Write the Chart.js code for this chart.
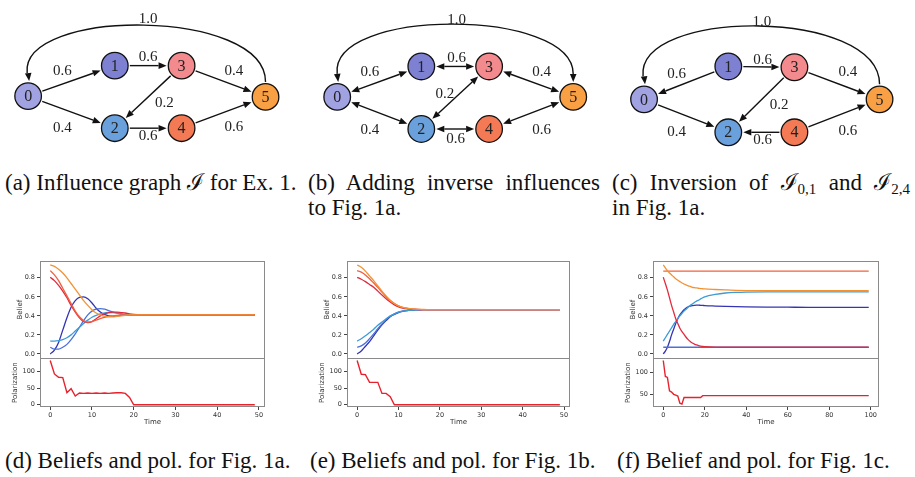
<!DOCTYPE html>
<html>
<head>
<meta charset="utf-8">
<script src="https://cdn.jsdelivr.net/npm/chart.js@4.4.1/dist/chart.umd.min.js"></script>
<style>
  body { margin: 0; width: 915px; height: 477px; background: #fff; position: relative; overflow: hidden; }
  canvas { position: absolute; }
  .cap { position: absolute; font-family: 'Liberation Serif', serif; font-size: 23px; line-height: 26px; color: #111; white-space: nowrap; }
  .just { text-align: justify; text-align-last: justify; }
  .cap sub { font-size: 15px; line-height: 0; vertical-align: -4px; }
</style>
</head>
<body>
<canvas id="ga" width="300" height="165" style="left:0;top:0"></canvas>
<canvas id="gb" width="305" height="165" style="left:300px;top:0"></canvas>
<canvas id="gc" width="310" height="165" style="left:605px;top:0"></canvas>

<canvas id="pd" width="300" height="180" style="left:0;top:250px"></canvas>
<canvas id="pe" width="300" height="180" style="left:307px;top:250px"></canvas>
<canvas id="pf" width="300" height="180" style="left:613px;top:250px"></canvas>

<div class="cap" style="left:5px;top:170px">(a) Influence graph ℐ for Ex. 1.</div>
<div class="cap just" style="left:308px;top:170px;width:292px">(b) Adding inverse influences</div>
<div class="cap" style="left:308px;top:195px">to Fig. 1a.</div>
<div class="cap just" style="left:612px;top:170px;width:298px">(c) Inversion of ℐ<sub>0,1</sub> and ℐ<sub>2,4</sub></div>
<div class="cap" style="left:612px;top:195px">in Fig. 1a.</div>
<div class="cap" style="left:5px;top:448px">(d) Beliefs and pol. for Fig. 1a.</div>
<div class="cap" style="left:310px;top:448px">(e) Beliefs and pol. for Fig. 1b.</div>
<div class="cap" style="left:617px;top:448px">(f) Belief and pol. for Fig. 1c.</div>

<script>
// ---- influence graphs ----
const nodeIds = ['0', '1', '2', '3', '4', '5'];
const nodeColors = ['#a1a2e2', '#7e81d2', '#6aa0dc', '#f28a8e', '#f37a55', '#f8a043'];

// node centres inside each panel
const nodesAX = [15, 111, 111, 185, 185, 278];
const nodesAY = [99, 62, 138, 62, 138, 100];
const nodesBX = [25, 118, 118, 193, 193, 286];
const nodesBY = [100, 63, 139, 63, 139, 100];
const nodesCX = [27, 120, 120, 193, 193, 287];
const nodesCY = [103, 63, 143, 64, 143, 103];

// [from, to, weight]
const edgesA = [[0, 1, 0.6], [1, 3, 0.6], [3, 5, 0.4], [3, 2, 0.2], [0, 2, 0.4], [2, 4, 0.6], [4, 5, 0.6], [5, 0, 1.0]];
const edgesB = [[0, 1, 0.6], [1, 3, 0.6], [3, 5, 0.4], [3, 2, 0.2], [0, 2, 0.4], [2, 4, 0.6], [4, 5, 0.6], [0, 5, 1.0]];
const edgesC = [[1, 0, 0.6], [1, 3, 0.6], [3, 5, 0.4], [3, 2, 0.2], [0, 2, 0.4], [4, 2, 0.6], [4, 5, 0.6], [5, 0, 1.0]];

// weight label spots, same order as the edges
const labelsA = [[53, 68], [148, 52], [243, 68], [166, 108], [53, 138], [148, 148], [243, 137], [148, 6]];
const labelsB = [[61, 70], [157, 53], [251, 70], [144, 97], [61, 140], [156, 151], [251, 140], [157, 7]];
const labelsC = [[63, 72], [158, 55], [252, 70], [176, 110], [63, 143], [158, 153], [252, 142], [157, 9]];

// top of the 0-5 arc
const arcTopA = 14;
const arcTopB = 14;
const arcTopC = 15;

// ---- belief / polarization runs ----
const timeD = [0, 1, 2, 3, 4, 5, 6, 7, 8, 9, 10, 11, 12, 13, 14, 15, 16, 17, 18, 19, 20, 25, 30, 35, 40, 45, 49];
const beliefD = [
  [0.00, 0.04, 0.12, 0.25, 0.38, 0.49, 0.56, 0.595, 0.60, 0.58, 0.535, 0.48, 0.44, 0.415, 0.40, 0.395, 0.40, 0.405, 0.41, 0.41, 0.41, 0.41, 0.41, 0.41, 0.41, 0.41, 0.41],
  [0.07, 0.05, 0.05, 0.07, 0.10, 0.15, 0.21, 0.28, 0.35, 0.41, 0.45, 0.47, 0.475, 0.47, 0.455, 0.44, 0.43, 0.42, 0.415, 0.41, 0.41, 0.41, 0.41, 0.41, 0.41, 0.41, 0.41],
  [0.135, 0.135, 0.14, 0.15, 0.17, 0.20, 0.24, 0.28, 0.32, 0.355, 0.385, 0.405, 0.42, 0.43, 0.435, 0.435, 0.43, 0.42, 0.415, 0.41, 0.41, 0.41, 0.41, 0.41, 0.41, 0.41, 0.41],
  [0.805, 0.77, 0.72, 0.66, 0.59, 0.51, 0.44, 0.38, 0.34, 0.33, 0.34, 0.37, 0.40, 0.42, 0.435, 0.44, 0.44, 0.435, 0.43, 0.42, 0.415, 0.41, 0.41, 0.41, 0.41, 0.41, 0.41],
  [0.875, 0.83, 0.77, 0.69, 0.61, 0.53, 0.45, 0.39, 0.35, 0.335, 0.34, 0.355, 0.37, 0.385, 0.395, 0.40, 0.405, 0.41, 0.41, 0.41, 0.41, 0.41, 0.41, 0.41, 0.41, 0.41, 0.41],
  [0.935, 0.92, 0.89, 0.85, 0.80, 0.74, 0.68, 0.62, 0.56, 0.51, 0.465, 0.43, 0.41, 0.395, 0.39, 0.39, 0.395, 0.40, 0.405, 0.41, 0.41, 0.41, 0.41, 0.41, 0.41, 0.41, 0.41]
];
const polD = [132, 92, 82, 81, 36, 48, 26, 35, 34, 35, 34, 35, 34, 35, 34, 35, 36, 36, 34, 22, 0, 0, 0, 0, 0, 0, 0];

const timeE = [0, 1, 2, 3, 4, 5, 6, 7, 8, 9, 10, 11, 12, 13, 14, 15, 16, 17, 18, 19, 20, 25, 30, 35, 40, 45, 49];
const beliefE = [
  [0.00, 0.03, 0.08, 0.13, 0.19, 0.25, 0.305, 0.35, 0.39, 0.415, 0.435, 0.447, 0.455, 0.46, 0.462, 0.464, 0.465, 0.465, 0.465, 0.465, 0.465, 0.465, 0.465, 0.465, 0.465, 0.465, 0.465],
  [0.07, 0.085, 0.115, 0.16, 0.21, 0.265, 0.315, 0.36, 0.395, 0.42, 0.438, 0.45, 0.456, 0.46, 0.463, 0.464, 0.465, 0.465, 0.465, 0.465, 0.465, 0.465, 0.465, 0.465, 0.465, 0.465, 0.465],
  [0.135, 0.16, 0.19, 0.225, 0.26, 0.30, 0.335, 0.37, 0.40, 0.42, 0.44, 0.45, 0.456, 0.46, 0.462, 0.464, 0.465, 0.465, 0.465, 0.465, 0.465, 0.465, 0.465, 0.465, 0.465, 0.465, 0.465],
  [0.805, 0.785, 0.76, 0.73, 0.70, 0.66, 0.62, 0.58, 0.545, 0.515, 0.495, 0.482, 0.474, 0.47, 0.468, 0.466, 0.465, 0.465, 0.465, 0.465, 0.465, 0.465, 0.465, 0.465, 0.465, 0.465, 0.465],
  [0.875, 0.86, 0.83, 0.79, 0.745, 0.70, 0.65, 0.60, 0.56, 0.53, 0.505, 0.49, 0.48, 0.473, 0.47, 0.467, 0.466, 0.465, 0.465, 0.465, 0.465, 0.465, 0.465, 0.465, 0.465, 0.465, 0.465],
  [0.935, 0.91, 0.87, 0.82, 0.77, 0.715, 0.66, 0.61, 0.565, 0.53, 0.505, 0.49, 0.48, 0.475, 0.47, 0.468, 0.467, 0.466, 0.465, 0.465, 0.465, 0.465, 0.465, 0.465, 0.465, 0.465, 0.465]
];
const polE = [132, 91, 90, 67, 67, 67, 34, 34, 24, 0, 0, 0, 0, 0, 0, 0, 0, 0, 0, 0, 0, 0, 0, 0, 0, 0, 0];

const timeF = [0, 1, 2, 3, 4, 5, 6, 7, 8, 9, 10, 11, 12, 13, 14, 15, 16, 17, 18, 19, 20, 25, 30, 35, 40, 50, 60, 70, 80, 90, 99];
const beliefF = [
  [0.00, 0.03, 0.07, 0.13, 0.20, 0.26, 0.32, 0.37, 0.41, 0.44, 0.465, 0.483, 0.496, 0.503, 0.508, 0.511, 0.512, 0.512, 0.511, 0.51, 0.508, 0.503, 0.499, 0.496, 0.494, 0.492, 0.491, 0.49, 0.49, 0.49, 0.49],
  [0.07, 0.07, 0.07, 0.07, 0.07, 0.07, 0.07, 0.07, 0.07, 0.07, 0.07, 0.07, 0.07, 0.07, 0.07, 0.07, 0.07, 0.07, 0.07, 0.07, 0.07, 0.07, 0.07, 0.07, 0.07, 0.07, 0.07, 0.07, 0.07, 0.07, 0.07],
  [0.135, 0.17, 0.205, 0.24, 0.275, 0.31, 0.34, 0.37, 0.40, 0.425, 0.45, 0.47, 0.49, 0.51, 0.525, 0.54, 0.555, 0.565, 0.578, 0.59, 0.60, 0.625, 0.64, 0.647, 0.65, 0.652, 0.652, 0.652, 0.652, 0.652, 0.652],
  [0.805, 0.74, 0.67, 0.59, 0.51, 0.44, 0.37, 0.32, 0.27, 0.235, 0.205, 0.175, 0.15, 0.13, 0.115, 0.103, 0.094, 0.087, 0.082, 0.078, 0.076, 0.071, 0.07, 0.07, 0.07, 0.07, 0.07, 0.07, 0.07, 0.07, 0.07],
  [0.87, 0.87, 0.87, 0.87, 0.87, 0.87, 0.87, 0.87, 0.87, 0.87, 0.87, 0.87, 0.87, 0.87, 0.87, 0.87, 0.87, 0.87, 0.87, 0.87, 0.87, 0.87, 0.87, 0.87, 0.87, 0.87, 0.87, 0.87, 0.87, 0.87, 0.87],
  [0.935, 0.905, 0.875, 0.85, 0.83, 0.81, 0.79, 0.775, 0.76, 0.745, 0.735, 0.725, 0.715, 0.71, 0.70, 0.697, 0.693, 0.69, 0.687, 0.685, 0.683, 0.677, 0.672, 0.668, 0.666, 0.665, 0.665, 0.665, 0.665, 0.665, 0.665]
];
const polF = [126, 90, 88, 58, 55, 50, 48, 46, 30, 28, 43, 43, 43, 43, 43, 43, 43, 43, 43, 47, 47, 47, 47, 47, 47, 47, 47, 47, 47, 47, 47];

const beliefTicks = [0, 0.2, 0.4, 0.6, 0.8];
const polTicksDE = [0, 50, 100];
const polTicksF = [50, 100];
const timeTicksDE = [0, 10, 20, 30, 40, 50];
const timeTicksF = [0, 20, 40, 60, 80, 100];

const lineColors = ['#3434b4', '#4a70da', '#3d9bd6', '#e22a3c', '#f0603f', '#f49233'];
const polColor = '#e8222c';

Chart.defaults.font.family = 'DejaVu Sans';

// edges, arrows and weights, drawn under the nodes
const graphPlugin = {
  id: 'graph',
  beforeDatasetsDraw(chart, args, opts) {
    const { ctx, scales: { x, y } } = chart;
    const px = i => x.getPixelForValue(opts.nx[i]);
    const py = i => y.getPixelForValue(opts.ny[i]);
    const r = 14, head = 8, half = 3.3;
    ctx.save();
    ctx.strokeStyle = '#111';
    ctx.fillStyle = '#111';
    ctx.lineWidth = 1.4;

    const arrow = (tx, ty, ux, uy) => {
      ctx.beginPath();
      ctx.moveTo(tx, ty);
      ctx.lineTo(tx - ux * head - uy * half, ty - uy * head + ux * half);
      ctx.lineTo(tx - ux * head + uy * half, ty - uy * head - ux * half);
      ctx.closePath();
      ctx.fill();
    };

    opts.edges.forEach(([a, b]) => {
      const ax = px(a), ay = py(a), bx = px(b), by = py(b);
      if ((a === 0 && b === 5) || (a === 5 && b === 0)) {
        // big arc over the top
        const top = y.getPixelForValue(opts.arcTop);
        const sy = ay - r - 1, ey = by - r - 1;
        const cy = (top - 0.125 * (sy + ey)) / 0.75;
        const sIn = opts.twoWay ? head : 0;
        ctx.beginPath();
        ctx.moveTo(ax, sy - sIn);
        ctx.bezierCurveTo(ax + (a === 0 ? -8 : 0), cy, bx + (b === 0 ? -8 : 0), cy, bx + (b === 0 ? -1 : 0), ey - head);
        ctx.stroke();
        arrow(bx + (b === 0 ? 1 : 0), ey, b === 0 ? 0.12 : 0, 1);
        if (opts.twoWay) arrow(ax + (a === 0 ? 1 : 0), sy, a === 0 ? 0.12 : 0, 1);
        return;
      }
      const d = Math.hypot(bx - ax, by - ay);
      const ux = (bx - ax) / d, uy = (by - ay) / d;
      const tipX = bx - ux * (r + 1), tipY = by - uy * (r + 1);
      let sx = ax + ux * (r + 1), sy = ay + uy * (r + 1);
      if (opts.twoWay) {
        arrow(sx, sy, -ux, -uy);
        sx += ux * head; sy += uy * head;
      }
      ctx.beginPath();
      ctx.moveTo(sx, sy);
      ctx.lineTo(tipX - ux * head, tipY - uy * head);
      ctx.stroke();
      arrow(tipX, tipY, ux, uy);
    });

    ctx.font = '15px "Liberation Serif"';
    ctx.fillStyle = '#222';
    ctx.textAlign = 'center';
    ctx.textBaseline = 'middle';
    opts.edges.forEach((e, k) => {
      const [lx, ly] = opts.labels[k];
      ctx.fillText(e[2].toFixed(1), x.getPixelForValue(lx), y.getPixelForValue(ly));
    });
    ctx.restore();
  },
  afterDatasetsDraw(chart, args, opts) {
    const { ctx, scales: { x, y } } = chart;
    ctx.save();
    ctx.font = '16px "Liberation Serif"';
    ctx.fillStyle = '#222';
    ctx.textAlign = 'center';
    ctx.textBaseline = 'middle';
    nodeIds.forEach((id, i) => ctx.fillText(id, x.getPixelForValue(opts.nx[i]), y.getPixelForValue(opts.ny[i]) + 1));
    ctx.restore();
  }
};

function graphChart(id, nx, ny, edges, labels, arcTop, twoWay) {
  const el = document.getElementById(id);
  new Chart(el, {
    type: 'scatter',
    data: {
      datasets: [{
        data: nx.map((v, i) => ({ x: v, y: ny[i] })),
        pointRadius: 13.3,
        pointBackgroundColor: nodeColors,
        pointBorderColor: '#111',
        pointBorderWidth: 1.3,
        clip: false
      }]
    },
    options: {
      responsive: false,
      animation: false,
      devicePixelRatio: 1,
      layout: { padding: 0 },
      events: [],
      plugins: {
        legend: { display: false },
        tooltip: { enabled: false },
        graph: { nx, ny, edges, labels, arcTop, twoWay }
      },
      scales: {
        x: { type: 'linear', min: 0, max: el.width, display: false },
        y: { type: 'linear', min: 0, max: el.height, reverse: true, display: false }
      }
    },
    plugins: [graphPlugin]
  });
}

graphChart('ga', nodesAX, nodesAY, edgesA, labelsA, arcTopA, false);
graphChart('gb', nodesBX, nodesBY, edgesB, labelsB, arcTopB, true);
graphChart('gc', nodesCX, nodesCY, edgesC, labelsC, arcTopC, false);

// frame round both subplots and the line between them
const framePlugin = {
  id: 'frame',
  afterDatasetsDraw(chart) {
    const { ctx, chartArea: a, scales } = chart;
    const mid = Math.round(Math.min(scales.yb.bottom, scales.yp.bottom)) + 0.5;
    ctx.save();
    ctx.strokeStyle = '#8a8a8a';
    ctx.lineWidth = 1;
    ctx.strokeRect(Math.round(a.left) + 0.5, Math.round(a.top) + 0.5, Math.round(a.width) - 1, Math.round(a.height) - 1);
    ctx.beginPath();
    ctx.moveTo(a.left, mid);
    ctx.lineTo(a.right, mid);
    ctx.stroke();
    ctx.restore();
  }
};

function runChart(id, time, beliefs, pol, xMin, xMax, xTicks, polMin, polMax, polTicks, padRight) {
  const tickFont = { size: 6.5 };
  const grid = { drawOnChartArea: false, tickLength: 3, color: '#444' };
  // later agents are drawn on top, as in the original plot
  const sets = beliefs.map((s, i) => ({
    data: time.map((t, k) => ({ x: t, y: s[k] })),
    yAxisID: 'yb',
    order: beliefs.length - i,
    borderColor: lineColors[i],
    borderWidth: 1.3,
    pointRadius: 0,
    cubicInterpolationMode: 'monotone'
  }));
  sets.push({
    data: time.map((t, k) => ({ x: t, y: pol[k] })),
    yAxisID: 'yp',
    order: 0,
    borderColor: polColor,
    borderWidth: 1.4,
    pointRadius: 0,
    tension: 0
  });
  new Chart(document.getElementById(id), {
    type: 'line',
    data: { datasets: sets },
    options: {
      responsive: false,
      animation: false,
      devicePixelRatio: 1,
      events: [],
      layout: { padding: { top: 11, right: padRight, left: 0, bottom: 0 } },
      plugins: { legend: { display: false }, tooltip: { enabled: false } },
      scales: {
        x: {
          type: 'linear', min: xMin, max: xMax,
          afterBuildTicks: ax => { ax.ticks = xTicks.map(v => ({ value: v })); },
          ticks: { font: tickFont, color: '#333', padding: 1, maxRotation: 0 },
          grid, border: { display: false },
          title: { display: true, text: 'Time', font: { size: 7 }, color: '#333', padding: { top: 0, bottom: 4 } },
          afterFit: ax => { ax.height = 23; }
        },
        yp: {
          type: 'linear', position: 'left', stack: 'runs', stackWeight: 1,
          min: polMin, max: polMax,
          afterBuildTicks: ax => { ax.ticks = polTicks.map(v => ({ value: v })); },
          ticks: { font: tickFont, color: '#333', padding: 2 },
          grid, border: { display: false },
          title: { display: true, text: 'Polarization', font: { size: 7 }, color: '#333', padding: { top: 11, bottom: 0 } },
          afterFit: ax => { ax.width = 40; }
        },
        yb: {
          type: 'linear', position: 'left', stack: 'runs', stackWeight: 2,
          min: -0.0465, max: 0.9765,
          afterBuildTicks: ax => { ax.ticks = beliefTicks.map(v => ({ value: v })); },
          ticks: { font: tickFont, color: '#333', padding: 2, callback: v => v.toFixed(1) },
          grid, border: { display: false },
          title: { display: true, text: 'Belief', font: { size: 7 }, color: '#333', padding: { top: 16, bottom: 0 } },
          afterFit: ax => { ax.width = 40; }
        }
      }
    },
    plugins: [framePlugin]
  });
}

runChart('pd', timeD, beliefD, polD, -2.45, 51.45, timeTicksDE, -6.6, 138.6, polTicksDE, 35);
runChart('pe', timeE, beliefE, polE, -2.45, 51.45, timeTicksDE, -6.6, 138.6, polTicksDE, 37);
runChart('pf', timeF, beliefF, polF, -4.95, 103.95, timeTicksF, 21.5, 130.8, polTicksF, 34);
</script>
</body>
</html>
